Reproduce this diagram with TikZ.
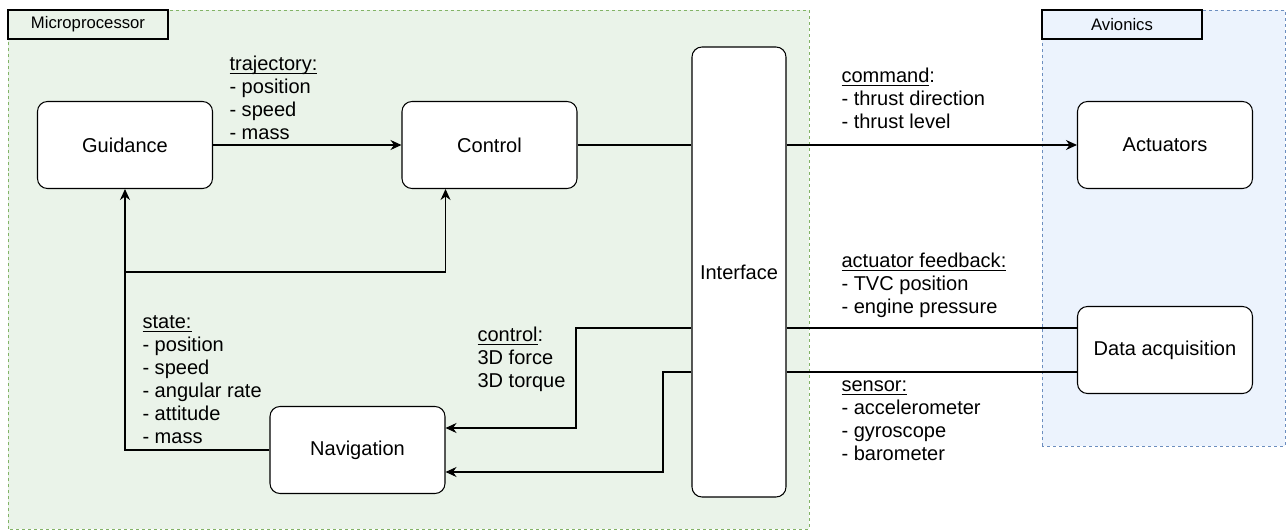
\documentclass[tikz,border=0pt]{standalone}
\usepackage{fontspec}
\setmainfont{Liberation Sans}
\usetikzlibrary{arrows.meta,positioning}
\definecolor{mpfill}{HTML}{EAF3E9}
\definecolor{mpline}{HTML}{82B366}
\definecolor{avfill}{HTML}{ECF3FD}
\definecolor{avline}{HTML}{6C8EBF}
\newcommand{\ulabel}[1]{\setbox0\hbox{#1}\rlap{\rule[-2pt]{\wd0}{0.55pt}}\box0}

\begin{document}
\begin{tikzpicture}[
  line width=0.6pt, >={Stealth[length=2.2mm,width=2mm]},
  font=\fontsize{11.4}{13.1}\selectfont,
  block/.style={draw, rounded corners=0.2cm, fill=white, minimum width=3.5cm, minimum height=1.74cm},
  grouptag/.style={draw, font=\fontsize{9.5}{11}\selectfont, minimum width=3.2cm, minimum height=0.58cm, inner sep=0pt},
  msg/.style={anchor=west, align=left, inner sep=0pt},
  container/.style={dash pattern=on 1.7pt off 1.7pt, line width=0.5pt}
]
\useasboundingbox (0,0) rectangle (25.74,10.62);

% groups: microprocessor and avionics
\draw[container, draw=mpline, fill=mpfill] (0.16,0.04) rectangle (16.18,10.42);
\draw[container, draw=avline, fill=avfill] (20.84,1.70) rectangle (25.70,10.42);
\node[grouptag] (mptag) at (1.76,10.13) {Microprocessor};
\node[grouptag] (avtag) at (22.44,10.13) {Avionics};

% blocks
\node[block] (Guidance) at (2.5,7.72) {Guidance};
\node[block] (Control) at (9.79,7.72) {Control};
\node[block] (Navigation) at (7.15,1.62) {Navigation};
\node[block, minimum width=1.88cm, minimum height=9cm] (Interface) at (14.78,5.18) {Interface};
\node[block] (Actuators) at (23.3,7.72) {Actuators};
\node[block] (DataAcq) at (23.3,3.62) {Data acquisition};

% connectors
\draw[->] (Guidance) -- (Control);
\draw (Control) -- (Control -| Interface.west);
\draw[->] (Interface.east |- Actuators) -- (Actuators);
\coordinate (split) at (2.5,5.18);
\draw[->] (Navigation.west) -| (Guidance.south);
\draw[->] (split) -| (Navigation.east |- Control.south);
\draw[->] (Interface.west |- 0,4.06) -| (11.52,2.06) -- (Navigation.east |- 0,2.06);
\draw[->] (Interface.west |- 0,3.18) -| (13.26,1.18) -- (Navigation.east |- 0,1.18);
\draw (Interface.east |- 0,4.06) -- (DataAcq.west |- 0,4.06);
\draw (Interface.east |- 0,3.18) -- (DataAcq.west |- 0,3.18);

% message labels
\node[msg] (trajlbl) at (4.58,8.66) {\ulabel{trajectory:}\\- position\\- speed\\- mass};
\node[msg] (cmdlbl) at (16.82,8.65) {\ulabel{command}:\\- thrust direction\\- thrust level};
\node[msg] (fblbl) at (16.82,4.92) {\ulabel{actuator feedback:}\\- TVC position\\- engine pressure};
\node[msg] (senslbl) at (16.82,2.2) {\ulabel{sensor:}\\- accelerometer\\- gyroscope\\- barometer};
\node[msg] (statelbl) at (2.84,3.02) {\ulabel{state:}\\- position\\- speed\\- angular rate\\- attitude\\- mass};
\node[msg] (ctrllbl) at (9.54,3.44) {\ulabel{control}:\\3D force\\3D torque};
\end{tikzpicture}
\end{document}
